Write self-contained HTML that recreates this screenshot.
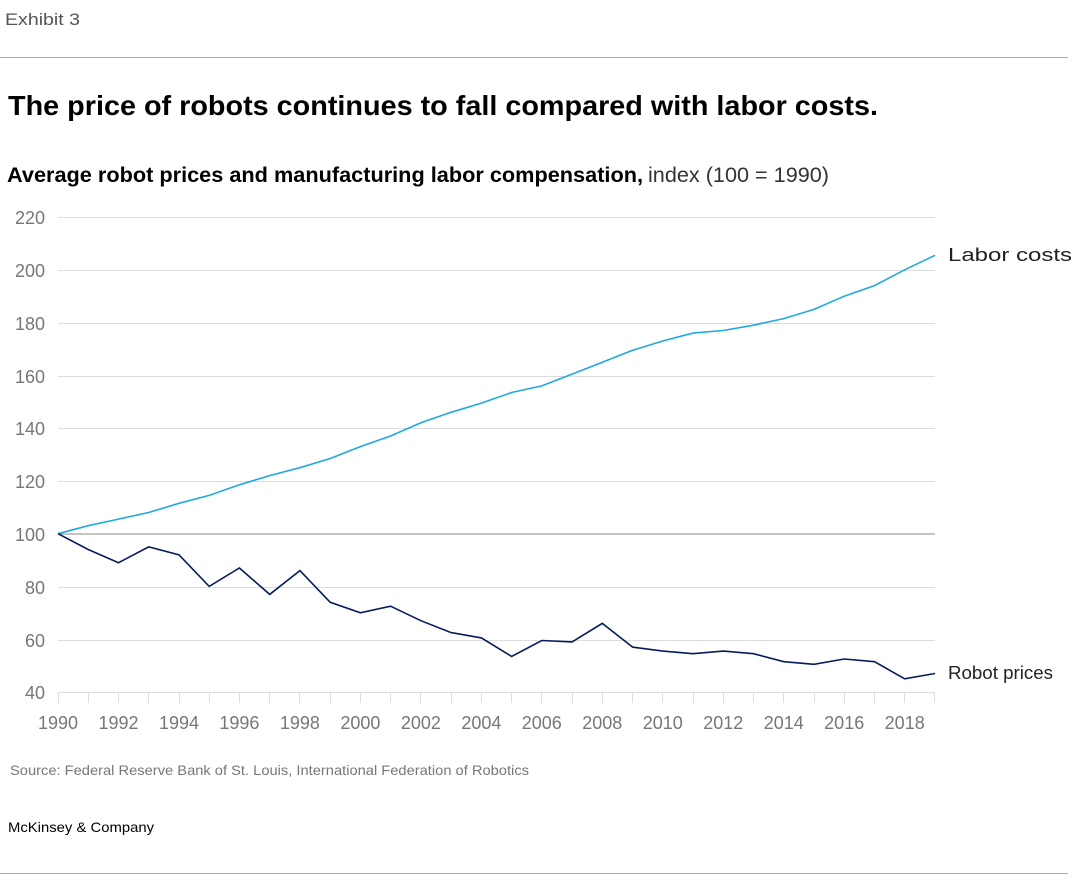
<!DOCTYPE html>
<html><head><meta charset="utf-8"><style>body{margin:0;background:#fff}svg{display:block}</style></head><body>
<svg width="1075" height="888" xmlns="http://www.w3.org/2000/svg" font-family="Liberation Sans, sans-serif">
<text x="5" y="25" font-size="17" fill="#555" textLength="75" lengthAdjust="spacingAndGlyphs">Exhibit 3</text>
<line x1="0" y1="57.5" x2="1068" y2="57.5" stroke="#aaa" stroke-width="1"/>
<text x="8" y="115" font-size="28" font-weight="bold" fill="#000" textLength="870" lengthAdjust="spacingAndGlyphs">The price of robots continues to fall compared with labor costs.</text>
<text x="7" y="182" font-size="21" font-weight="bold" fill="#000" textLength="636" lengthAdjust="spacingAndGlyphs">Average robot prices and manufacturing labor compensation,</text>
<text x="648" y="182" font-size="21" fill="#333" textLength="181" lengthAdjust="spacingAndGlyphs">index (100 = 1990)</text>
<g stroke="#ddd" stroke-width="1">
<line x1="58" y1="217.5" x2="935" y2="217.5"/><line x1="58" y1="270.5" x2="935" y2="270.5"/>
<line x1="58" y1="323.5" x2="935" y2="323.5"/><line x1="58" y1="376.5" x2="935" y2="376.5"/>
<line x1="58" y1="428.5" x2="935" y2="428.5"/><line x1="58" y1="481.5" x2="935" y2="481.5"/>
<line x1="58" y1="587.5" x2="935" y2="587.5"/><line x1="58" y1="640.5" x2="935" y2="640.5"/>
<line x1="58" y1="692.5" x2="935" y2="692.5"/>
</g>
<line x1="58" y1="534" x2="935" y2="534" stroke="#888" stroke-width="1"/>
<g stroke="#ddd" stroke-width="1">
<path d="M58.5 692v11M88.5 692v11M118.5 692v11M148.5 692v11M179.5 692v11M209.5 692v11M239.5 692v11M269.5 692v11M299.5 692v11M330.5 692v11M360.5 692v11M390.5 692v11M420.5 692v11M451.5 692v11M481.5 692v11M511.5 692v11M541.5 692v11M572.5 692v11M602.5 692v11M632.5 692v11M662.5 692v11M693.5 692v11M723.5 692v11M753.5 692v11M783.5 692v11M814.5 692v11M844.5 692v11M874.5 692v11M904.5 692v11M934.5 692v11"/>
</g>
<g font-size="18" fill="#777" text-anchor="end">
<text x="45" y="224">220</text><text x="45" y="277">200</text><text x="45" y="330">180</text>
<text x="45" y="383">160</text><text x="45" y="435">140</text><text x="45" y="488">120</text>
<text x="45" y="541">100</text><text x="45" y="594">80</text><text x="45" y="647">60</text><text x="45" y="699">40</text>
</g>
<g font-size="18" fill="#777" text-anchor="middle">
<text x="58" y="729">1990</text><text x="118.5" y="729">1992</text><text x="179" y="729">1994</text>
<text x="239.4" y="729">1996</text><text x="299.9" y="729">1998</text><text x="360.4" y="729">2000</text>
<text x="420.9" y="729">2002</text><text x="481.4" y="729">2004</text><text x="541.8" y="729">2006</text>
<text x="602.3" y="729">2008</text><text x="662.8" y="729">2010</text><text x="723.3" y="729">2012</text>
<text x="783.8" y="729">2014</text><text x="844.2" y="729">2016</text><text x="904.7" y="729">2018</text>
</g>
<polyline fill="none" stroke="#1fa9e1" stroke-width="1.6" points="58,533.7 88.2,525.7 118.5,519.1 148.7,512.5 179,503.3 209.2,495.4 239.4,484.8 269.7,475.6 299.9,467.7 330.2,458.5 360.4,446.6 390.6,436 420.9,422.8 451.1,412.3 481.4,403.1 511.6,392.5 541.8,385.9 572.1,374.1 602.3,362.2 632.6,350.3 662.8,341 693,333.1 723.3,330.5 753.5,325.2 783.8,318.6 814,309.4 844.2,296.2 874.5,285.6 904.7,269.8 935,255.3"/>
<polyline fill="none" stroke="#051c5c" stroke-width="1.6" points="58,533.7 88.2,549.5 118.5,562.7 148.7,546.9 179,554.8 209.2,586.4 239.4,568 269.7,594.4 299.9,570.6 330.2,602.3 360.4,612.8 390.6,606.2 420.9,620.7 451.1,632.6 481.4,637.9 511.6,656.4 541.8,640.5 572.1,641.9 602.3,623.4 632.6,647.1 662.8,651.1 693,653.7 723.3,651.1 753.5,653.7 783.8,661.7 814,664.3 844.2,659 874.5,661.7 904.7,678.8 935,673.5"/>
<text x="948" y="261" font-size="18" fill="#222" textLength="124" lengthAdjust="spacingAndGlyphs">Labor costs</text>
<text x="948" y="679" font-size="18" fill="#222" textLength="105" lengthAdjust="spacingAndGlyphs">Robot prices</text>
<text x="10" y="775" font-size="14" fill="#777" textLength="519" lengthAdjust="spacingAndGlyphs">Source: Federal Reserve Bank of St. Louis, International Federation of Robotics</text>
<text x="8" y="832" font-size="14" fill="#000" textLength="146" lengthAdjust="spacingAndGlyphs">McKinsey &amp; Company</text>
<line x1="0" y1="873.5" x2="1068" y2="873.5" stroke="#aaa" stroke-width="1"/>
</svg>
</body></html>
